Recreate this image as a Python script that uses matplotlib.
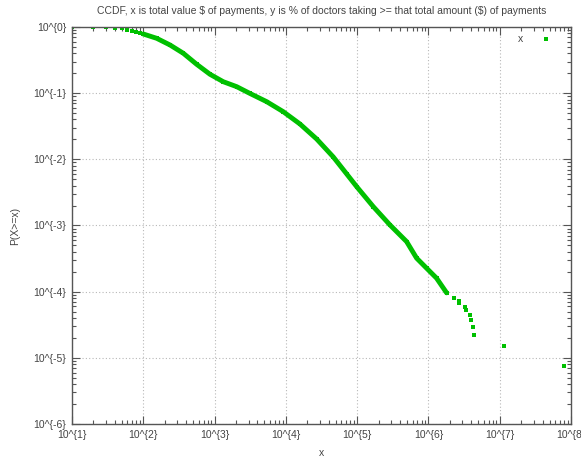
import numpy as np
import matplotlib
matplotlib.use("Agg")
from matplotlib import pyplot as plt
from matplotlib.ticker import LogLocator, FixedLocator, NullFormatter

# sparse points at the low end
head_x = [10, 20, 30, 40, 50, 60, 70, 80, 90]
head_y = [1.0, 0.99, 0.985, 0.975, 0.955, 0.91, 0.88, 0.85, 0.82]

# dense part of the curve
body_x = [100, 154, 237, 364, 561, 862, 1324, 2042, 3137, 5379, 9194, 15770,
          27040, 46240, 71290, 98400, 168300, 288400, 494300, 682800, 943500,
          1.30e6, 1.80e6]
body_y = [0.784, 0.675, 0.535, 0.401, 0.273, 0.193, 0.149, 0.1254, 0.099,
          0.0744, 0.0525, 0.0342, 0.0203, 0.01087, 0.00602, 0.00387, 0.00193,
          0.00102, 0.000571, 0.000321, 0.000226, 0.00016, 9.6e-5]

# scattered tail
tail_x = [2.3e6, 2.65e6, 2.71e6, 3.28e6, 3.36e6, 3.86e6, 3.98e6, 4.17e6, 4.35e6,
          1.16e7, 7.94e7]
tail_y = [8.15e-5, 7.26e-5, 6.7e-5, 5.95e-5, 5.3e-5, 4.47e-5, 3.75e-5, 2.97e-5,
          2.25e-5, 1.5e-5, 7.5e-6]

xticks = [10.0 ** k for k in range(1, 9)]
xlabels = ['10^{%d}' % k for k in range(1, 9)]
yticks = [10.0 ** k for k in range(-6, 1)]
ylabels = ['10^{%d}' % k for k in range(-6, 1)]

green = '#00c000'
axcol = '#555555'
txtcol = '#444444'

plt.rcParams['font.family'] = ['Liberation Sans', 'DejaVu Sans']
plt.rcParams['font.size'] = 7.5
plt.rcParams['text.parse_math'] = False

fig = plt.figure(figsize=(5.81, 4.57), dpi=100)
ax = fig.add_axes([72 / 581, 33 / 457, 499 / 581, 397 / 457])

ax.plot(body_x, body_y, '-', color=green, lw=3.5, solid_capstyle='round',
        solid_joinstyle='round')
ax.plot(head_x + body_x + tail_x, head_y + body_y + tail_y, 's', color=green,
        ms=2.5, mew=0, label='x')

ax.set_xscale('log')
ax.set_yscale('log')
ax.set_xlim(10, 1e8)
ax.set_ylim(1e-6, 1)

ax.xaxis.set_major_locator(FixedLocator(xticks))
ax.yaxis.set_major_locator(FixedLocator(yticks))
ax.set_xticklabels(xlabels)
ax.set_yticklabels(ylabels)
ax.xaxis.set_minor_locator(LogLocator(base=10, subs=np.arange(2, 10), numticks=20))
ax.yaxis.set_minor_locator(LogLocator(base=10, subs=np.arange(2, 10), numticks=20))
ax.xaxis.set_minor_formatter(NullFormatter())
ax.yaxis.set_minor_formatter(NullFormatter())

ax.tick_params(which='both', direction='in', top=True, right=True,
               color=axcol, labelcolor=txtcol)
ax.tick_params(which='major', length=6, width=0.8, pad=4)
ax.tick_params(which='minor', length=3, width=0.8)
for s in ax.spines.values():
    s.set_color(axcol)
    s.set_linewidth(1.0)

ax.grid(True, which='major', color='#b8b8b8', ls=(0, (1, 2)), lw=0.8)

ax.set_title('CCDF, x is total value $ of payments, y is % of doctors taking >= '
             'that total amount ($) of payments', color=txtcol, fontsize=7.5, pad=9)
ax.set_xlabel('x', color=txtcol, labelpad=6)
ax.set_ylabel('P(X>=x)', color=txtcol, labelpad=10)

ax.legend(loc='upper right', bbox_to_anchor=(0.98, 1.0), frameon=False,
          markerfirst=False, handlelength=1.5, handletextpad=1.4,
          borderaxespad=0.3, labelcolor=txtcol)

fig.savefig('out.png', dpi=100)
